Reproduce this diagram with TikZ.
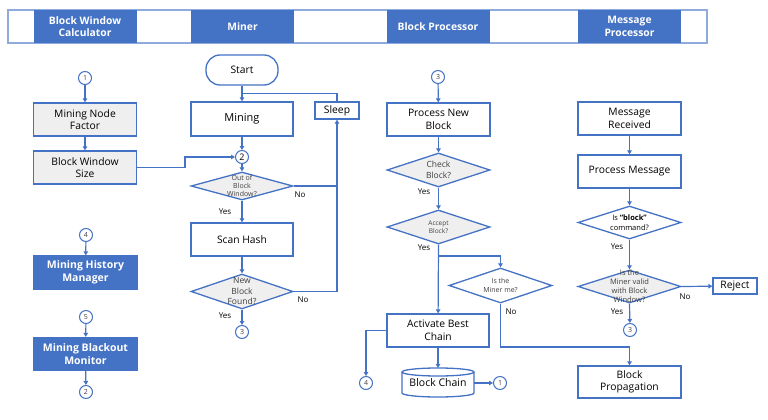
\documentclass[tikz,border=0pt]{standalone}
\usepackage{fontspec}
\setmainfont{Open Sans}
\usetikzlibrary{shapes.geometric,arrows.meta,calc}
\definecolor{mblue}{HTML}{4472C4}
\definecolor{lblue}{HTML}{8FAADC}
\definecolor{lgray}{HTML}{EFEFEF}
\definecolor{dgray}{HTML}{404040}
\begin{document}
\begin{tikzpicture}[x=1pt,y=-1pt,
  line/.style={draw=mblue, line width=1.2pt},
  arr/.style={line, -{Triangle[width=4.5pt,length=4pt]}},
  box/.style={rectangle, draw=mblue, line width=1.3pt, fill=white, minimum width=103pt, minimum height=33pt, inner sep=1pt, align=center, font=\fontsize{10.3}{12.5}\selectfont, text=black},
  gbox/.style={box, fill=lgray},
  bbox/.style={box, fill=mblue, text=white, font=\fontsize{10.5}{13}\selectfont\bfseries},
  hcell/.style={rectangle, fill=mblue, text=white, minimum width=103pt, minimum height=33pt, inner sep=0pt, align=center, font=\fontsize{10.3}{12.5}\selectfont\bfseries},
  dia/.style={diamond, draw=mblue, line width=1.3pt, fill=white, inner sep=0pt, minimum width=103pt, minimum height=34pt},
  gdia/.style={dia, fill=lgray},
  dtext/.style={align=center, inner sep=0pt, text=dgray, font=\fontsize{7.5}{9}\selectfont},
  conn/.style={circle, draw=mblue, line width=1pt, fill=white, minimum size=13pt, inner sep=0pt, font=\fontsize{7}{8}\selectfont, text=dgray},
  lab/.style={inner sep=0pt, font=\fontsize{8}{9}\selectfont, text=black}
]
\useasboundingbox (0,0) rectangle (768,420);
% header
\draw[draw=lblue, line width=1.2pt] (8,10) rectangle (707,43);
\node[hcell] (h1) at (85,26.5) {Block Window\\Calculator};
\node[hcell] (h2) at (242.5,26.5) {Miner};
\node[hcell] (h3) at (438,26.5) {Block Processor};
\node[hcell] (h4) at (629.5,26.5) {Message\\Processor};

% left column
\node[conn] (c1) at (85,78) {1};
\node[gbox] (mnf) at (85,119.5) {Mining Node\\Factor};
\node[gbox] (bws) at (85,167.5) {Block Window\\Size};
\node[conn] (c4) at (86,235) {4};
\node[bbox] (mhm) at (85.5,272.5) {Mining History\\Manager};
\node[conn] (c5) at (86,317) {5};
\node[bbox] (mbm) at (85.5,354) {Mining Blackout\\Monitor};
\node[conn] (c2l) at (86,392) {2};

% miner column
\node[box, minimum width=72pt, minimum height=30pt, rounded corners=14pt] (start) at (242,70) {Start};
\node[box, minimum width=102pt, minimum height=34pt, font=\fontsize{11}{13}\selectfont] (mining) at (242,119) {Mining};
\node[box, minimum width=44pt, minimum height=17pt] (sleep) at (337,110.5) {Sleep};
\node[conn, font=\fontsize{9}{10}\selectfont, text=black] (c2) at (242,157) {2};
\node[gdia, minimum width=102pt, minimum height=28pt] (d1) at (242,186) {};
\node[dtext, font=\fontsize{7}{8}\selectfont] at (d1.center) {Out of\\Block\\Window?};
\node[box, minimum width=102pt] (scan) at (242,239.5) {Scan Hash};
\node[gdia, minimum width=102pt, minimum height=35pt] (d2) at (242,291.5) {};
\node[dtext, font=\fontsize{8.5}{10.5}\selectfont] at (d2.center) {New\\Block\\Found?};
\node[conn] (c3) at (242,332) {3};

% block processor column
\node[conn] (c3b) at (438,77) {3};
\node[box] (pnb) at (438.5,119.5) {Process New\\Block};
\node[gdia] (check) at (438.5,170) {};
\node[dtext, font=\fontsize{8.5}{11}\selectfont] at (check.center) {Check\\Block?};
\node[gdia] (accept) at (438.5,227) {};
\node[dtext, font=\fontsize{6.5}{8}\selectfont] at (accept.center) {Accept\\Block?};
\node[dia, minimum height=35pt] (minerme) at (500.5,285.5) {};
\node[dtext, font=\fontsize{7}{9}\selectfont] at (minerme.center) {Is the\\Miner me?};
\node[box, minimum width=102pt] (activate) at (438,330.5) {Activate Best\\Chain};
\fill[white] (402,372) -- (402,393) .. controls (402,395.2) and (418.1,397) .. (438,397) .. controls (457.9,397) and (474,395.2) .. (474,393) -- (474,372) -- cycle;
\draw[draw=mblue, line width=1.3pt] (402,372) -- (402,393) .. controls (402,395.2) and (418.1,397) .. (438,397) .. controls (457.9,397) and (474,395.2) .. (474,393) -- (474,372);
\draw[draw=mblue, line width=1.3pt, fill=white] (438,372) ellipse [x radius=36pt, y radius=4pt];
\node[inner sep=0pt, minimum width=72pt, minimum height=29pt, font=\fontsize{10.5}{12}\selectfont] (chain) at (438,383) {\raisebox{-2pt}{Block Chain}};
\node[conn] (c4b) at (366,383) {4};
\node[conn] (c1b) at (500,383) {1};

% message processor column
\node[box] (msgrec) at (629.5,118.5) {Message\\Received};
\node[box] (procmsg) at (629.5,171.5) {Process Message};
\node[dia, minimum height=33pt] (isblock) at (629.5,222.5) {};
\node[dtext, text=black, font=\fontsize{7.5}{9.5}\selectfont] at (isblock.center) {Is \textbf{“block”}\\command?};
\node[gdia, minimum height=33pt] (valid) at (629.5,286.5) {};
\node[dtext, font=\fontsize{7.5}{9}\selectfont] at (valid.center) {Is the\\Miner valid\\with Block\\Window?};
\node[box, minimum width=44pt, minimum height=16pt] (reject) at (735,286) {Reject};
\node[conn] (c3m) at (630,330) {3};
\node[box, minimum height=32pt] (bprop) at (629.5,382) {Block\\Propagation};

% labels
\node[lab] at (225,212) {Yes};
\node[lab] at (300,195) {No};
\node[lab] at (303,300) {No};
\node[lab] at (225,316) {Yes};
\node[lab] at (424,192) {Yes};
\node[lab] at (424,248) {Yes};
\node[lab] at (511,312) {No};
\node[lab] at (617,247) {Yes};
\node[lab] at (685,297) {No};
\node[lab] at (617,312) {Yes};

% connectors: left
\draw[arr] (c1) -- (mnf);
\draw[arr] (mnf) -- (bws);
\draw[arr] (c4) -- (mhm);
\draw[arr] (c5) -- (mbm);
\draw[arr] (mbm) -- (c2l);
\coordinate (j1) at (185,157);
\draw[arr] (bws.east) -| (j1) -- (c2.west);

% miner
\draw[arr] (start) -- (mining);
\coordinate (j2) at (242,93.5);
\draw[line] (sleep.north) |- (j2);
\draw[arr] (mining) -- (c2);
\draw[arr] (c2) -- (d1.north);
\draw[arr] (d1.east) -| (sleep.south);
\draw[arr] (d1.south) -- (scan);
\draw[arr] (scan) -- (d2.north);
\draw[line] (d2.east) -| (sleep.south |- d1.east);
\draw[arr] (d2.south) -- (c3);

% block processor
\draw[arr] (c3b) -- (pnb);
\draw[arr] (pnb) -- (check.north);
\draw[arr] (check.south) -- (accept.north);
\draw[arr] (accept.south) -- (activate);
\coordinate (br) at (438.5,256);
\draw[arr] (br) -| (minerme.north);
\coordinate (mm) at (500.5,347);
\draw[arr] (minerme.south) -- (mm) -| (bprop.north);
\draw[arr] (activate.west) -| (c4b.north);
\draw[arr] (activate.south) -- (438,368);
\draw[arr] (chain.east) -- (c1b);

% message processor
\draw[arr] (msgrec) -- (procmsg);
\draw[arr] (procmsg) -- (isblock.north);
\draw[arr] (isblock.south) -- (valid.north);
\draw[arr] (valid.east) -- (reject);
\draw[arr] (valid.south) -- (c3m);
\end{tikzpicture}
\end{document}
